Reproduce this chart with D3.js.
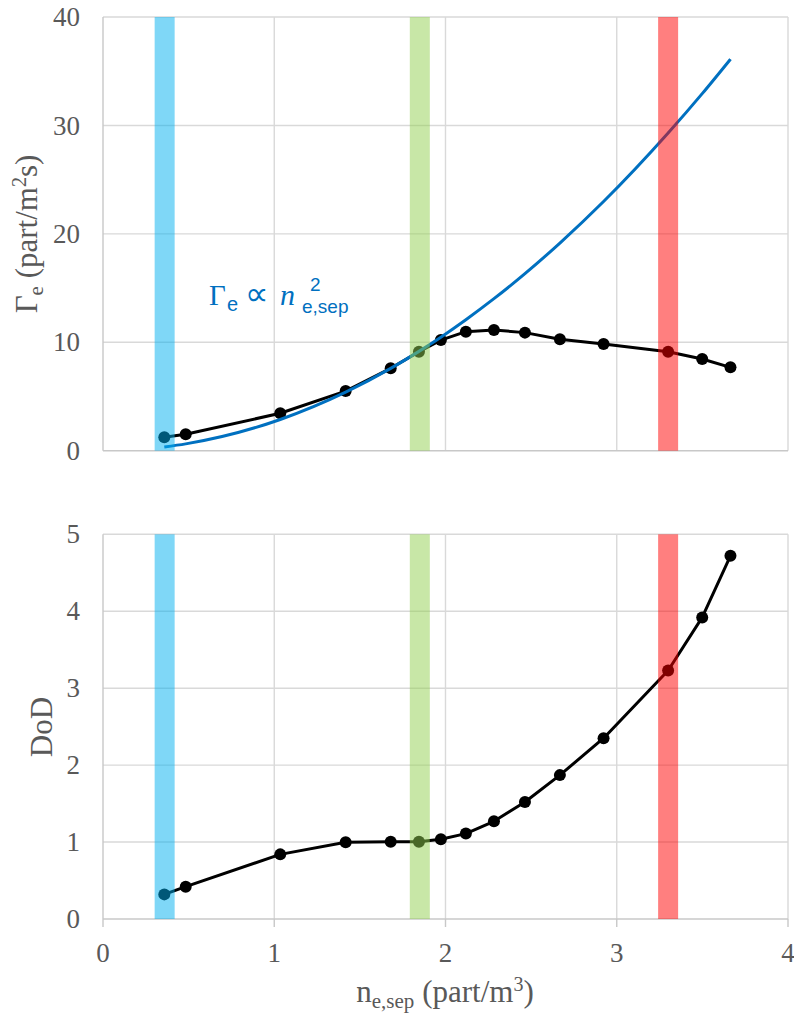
<!DOCTYPE html>
<html><head><meta charset="utf-8">
<script src="https://cdn.jsdelivr.net/npm/d3@7"></script>
<style>body{margin:0;background:#fff}svg{display:block}</style>
</head><body>
<svg id="c" width="794" height="1019"></svg>
<script>
// ---- data ----
const nSep = [0.358, 0.483, 1.035, 1.417, 1.680, 1.845, 1.973, 2.119, 2.283, 2.464, 2.668, 2.923, 3.300, 3.499, 3.664];
const gammaE = [1.24, 1.51, 3.45, 5.5, 7.6, 9.13, 10.2, 10.98, 11.13, 10.89, 10.28, 9.84, 9.13, 8.46, 7.69];
const dod = [0.32, 0.42, 0.84, 0.997, 1.005, 1.005, 1.036, 1.11, 1.27, 1.52, 1.87, 2.35, 3.23, 3.92, 4.72];
// fitted curve Γe ∝ n^2
const fitX = [0.358, 0.483, 1.035, 1.417, 1.680, 1.845, 1.973, 2.119, 2.283, 2.464, 2.668, 2.923, 3.300, 3.499, 3.664];
const fitY = [0.345, 0.63, 2.88, 5.40, 7.59, 9.16, 10.47, 12.08, 14.02, 16.33, 19.15, 22.98, 29.3, 32.93, 36.11];
const bandX = [0.36, 1.85, 3.30];
const bandColors = ["#00B0F0", "#92D050", "#FF0000"];
const xTicks = [0, 1, 2, 3, 4];
const topTicks = [0, 10, 20, 30, 40];
const botTicks = [0, 1, 2, 3, 4, 5];

const svg = d3.select("#c");
const x = d3.scaleLinear().domain([0, 4]).range([103, 788]);
const yTop = d3.scaleLinear().domain([0, 40]).range([450.7, 17]);
const yBot = d3.scaleLinear().domain([0, 5]).range([919, 534.3]);
const grey = "#595959";
const tickFont = "Liberation Serif, Times New Roman, serif";

function panel(y, ticks, showX) {
  const g = svg.append("g");
  g.selectAll(".hg").data(ticks.filter(t => t !== ticks[0])).join("line")
    .attr("x1", x(0)).attr("x2", x(4)).attr("y1", d => y(d)).attr("y2", d => y(d))
    .attr("stroke", "#d9d9d9").attr("stroke-width", 1.4);
  g.selectAll(".vg").data(xTicks.slice(1)).join("line")
    .attr("x1", d => x(d)).attr("x2", d => x(d)).attr("y1", y.range()[0]).attr("y2", y.range()[1])
    .attr("stroke", "#d9d9d9").attr("stroke-width", 1.4);
  g.append("line").attr("x1", x(0)).attr("x2", x(0)).attr("y1", y.range()[0]).attr("y2", y.range()[1])
    .attr("stroke", "#c8c8c8").attr("stroke-width", 1.4);
  g.append("line").attr("x1", x(0)).attr("x2", x(4)).attr("y1", y.range()[0]).attr("y2", y.range()[0])
    .attr("stroke", "#c8c8c8").attr("stroke-width", 1.4);
  g.selectAll(".yl").data(ticks).join("text")
    .attr("x", 80).attr("y", d => y(d)).attr("dy", "0.34em")
    .attr("text-anchor", "end").attr("fill", grey)
    .style("font-family", tickFont).style("font-size", "27px").text(d => d);
  if (showX) {
    g.selectAll(".xt").data(xTicks).join("line")
      .attr("x1", d => x(d)).attr("x2", d => x(d)).attr("y1", y.range()[0]).attr("y2", y.range()[0] + 8)
      .attr("stroke", "#c8c8c8").attr("stroke-width", 1.4);
    g.selectAll(".xl").data(xTicks).join("text")
      .attr("x", d => x(d)).attr("y", 962).attr("text-anchor", "middle").attr("fill", grey)
      .style("font-family", tickFont).style("font-size", "27px").text(d => d);
  }
  return g;
}

function series(g, y, vals) {
  const pts = nSep.map((d, i) => [d, vals[i]]);
  g.append("path").datum(pts)
    .attr("d", d3.line().x(d => x(d[0])).y(d => y(d[1])))
    .attr("fill", "none").attr("stroke", "#000").attr("stroke-width", 3).attr("stroke-linejoin", "round");
  g.selectAll(".pt").data(pts).join("circle")
    .attr("cx", d => x(d[0])).attr("cy", d => y(d[1])).attr("r", 6).attr("fill", "#000");
}

function bands(g, y) {
  g.selectAll(".band").data(bandX).join("rect")
    .attr("x", d => x(d) - 10).attr("width", 20)
    .attr("y", y.range()[1]).attr("height", y.range()[0] - y.range()[1])
    .attr("fill", (d, i) => bandColors[i]).attr("opacity", 0.5);
}

// top panel
const gT = panel(yTop, topTicks, false);
series(gT, yTop, gammaE);
const fitPts = fitX.map((d, i) => [d, fitY[i]]);
gT.append("path").datum(fitPts)
  .attr("d", d3.line().curve(d3.curveMonotoneX).x(d => x(d[0])).y(d => yTop(d[1])))
  .attr("fill", "none").attr("stroke", "#0070C0").attr("stroke-width", 3);
bands(gT, yTop);

// bottom panel
const gB = panel(yBot, botTicks, true);
series(gB, yBot, dod);
bands(gB, yBot);

// axis titles
const tf = "Liberation Serif, Times New Roman, serif";
const t1 = svg.append("text").attr("transform", "translate(37,234) rotate(-90)")
  .attr("text-anchor", "middle").attr("fill", grey).style("font-family", tf).style("font-size", "31px");
t1.append("tspan").text("Γ");
t1.append("tspan").attr("dy", 6).style("font-size", "21px").text("e");
t1.append("tspan").attr("dy", -6).text(" (part/m");
t1.append("tspan").attr("dy", -11).style("font-size", "20px").text("2");
t1.append("tspan").attr("dy", 11).text("s)");

svg.append("text").attr("transform", "translate(52,727) rotate(-90)")
  .attr("text-anchor", "middle").attr("fill", grey).style("font-family", tf).style("font-size", "31px").text("DoD");

const t3 = svg.append("text").attr("x", 445).attr("y", 1002)
  .attr("text-anchor", "middle").attr("fill", grey).style("font-family", tf).style("font-size", "31px");
t3.append("tspan").text("n");
t3.append("tspan").attr("dy", 6).style("font-size", "21px").text("e,sep");
t3.append("tspan").attr("dy", -6).text(" (part/m");
t3.append("tspan").attr("dy", -11).style("font-size", "20px").text("3");
t3.append("tspan").attr("dy", 11).text(")");

// annotation
const blue = "#0070C0";
const sans = "Liberation Sans, Arial, sans-serif";
const ann = svg.append("g").attr("fill", blue);
const a1 = ann.append("text").style("font-family", tf);
a1.append("tspan").attr("x", 209).attr("y", 305).style("font-size", "29px").text("Γ");
a1.append("tspan").attr("x", 227).attr("y", 311).style("font-family", sans).style("font-size", "20px").text("e");
a1.append("tspan").attr("x", 245).attr("y", 305).style("font-family", "DejaVu Sans, sans-serif").style("font-size", "33px").text("∝");
a1.append("tspan").attr("x", 280).attr("y", 305).style("font-style", "italic").style("font-size", "30px").text("n");
ann.append("text").attr("x", 310).attr("y", 291).style("font-family", sans).style("font-size", "19px").text("2");
ann.append("text").attr("x", 302).attr("y", 313).style("font-family", sans).style("font-size", "19px").text("e,sep");
</script>
</body></html>
